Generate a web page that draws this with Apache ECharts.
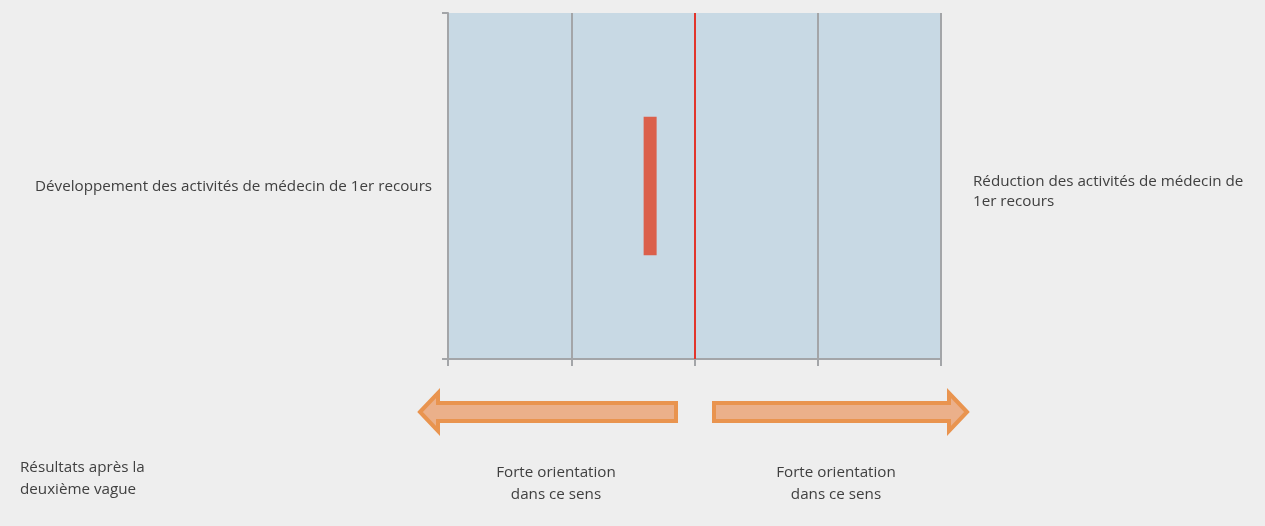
<!DOCTYPE html>
<html>
<head>
<meta charset="utf-8">
<script src="https://cdn.jsdelivr.net/npm/echarts@6/dist/echarts.min.js"></script>
<style>
  html, body { margin: 0; padding: 0; background: #eeeeee; }
  #chart { width: 1265px; height: 526px; }
</style>
</head>
<body>
<div id="chart"></div>
<script>
// Scale from -2 (développement) to +2 (réduction), neutral at 0
const xTicks = [-2, -1, 0, 1, 2];
const neutralValue = 0;
// Position of the result after the second wave, and its vertical span on a 0–1 scale
const resultValue = [-0.36];
const resultSpan = [[0.3, 0.7]];

const leftLabel = 'Développement des activités de médecin de 1er recours';
const rightLabel = ['Réduction des activités de médecin de', '1er recours'];
const waveLabel = ['Résultats après la', 'deuxième vague'];
const arrowLabel = ['Forte orientation', 'dans ce sens'];

const chart = echarts.init(document.getElementById('chart'));
const font = '"Open Sans", "Liberation Sans", sans-serif';
const fontSize = '15.2px ';
const textColor = '#404040';
const gray = '#a3a5a8';

const arrowFill = '#ebb08a';
const arrowStroke = '#e9944f';

function arrowLeft(x0, x1, yc) {
  // tip at x0, tail at x1
  const hb = x0 + 18;
  return [[x0, yc], [hb, yc - 19], [hb, yc - 9], [x1, yc - 9], [x1, yc + 9], [hb, yc + 9], [hb, yc + 19]];
}
function arrowRight(x0, x1, yc) {
  const hb = x1 - 18;
  return [[x1, yc], [hb, yc - 19], [hb, yc - 9], [x0, yc - 9], [x0, yc + 9], [hb, yc + 9], [hb, yc + 19]];
}

chart.setOption({
  backgroundColor: '#eeeeee',
  animation: false,
  grid: { left: 448, right: 324, top: 13, bottom: 167, show: true, backgroundColor: '#c8d9e4', borderWidth: 0 },
  xAxis: {
    type: 'value',
    min: xTicks[0], max: xTicks[xTicks.length - 1], interval: 1,
    axisLine: { show: true, onZero: false, lineStyle: { color: gray, width: 2 } },
    axisTick: { show: true, length: 7, lineStyle: { color: gray, width: 2 } },
    axisLabel: { show: false },
    splitLine: { show: true, lineStyle: { color: gray, width: 2 } }
  },
  yAxis: {
    type: 'value', min: 0, max: 1, interval: 1,
    axisLine: { show: true, onZero: false, lineStyle: { color: gray, width: 2 } },
    axisTick: { show: true, length: 6, lineStyle: { color: gray, width: 2 } },
    axisLabel: { show: false },
    splitLine: { show: false }
  },
  series: [
    {
      type: 'custom',
      data: resultValue.map((v, i) => [v, resultSpan[i][0], resultSpan[i][1]]),
      renderItem: function (params, api) {
        const top = api.coord([api.value(0), api.value(2)]);
        const bot = api.coord([api.value(0), api.value(1)]);
        const w = 13;
        return {
          type: 'rect',
          shape: { x: top[0] - w / 2, y: top[1], width: w, height: bot[1] - top[1] },
          style: { fill: '#db604b' }
        };
      },
      markLine: {
        silent: true, symbol: 'none', label: { show: false },
        lineStyle: { color: '#e2352b', width: 2, type: 'solid' },
        data: [{ xAxis: neutralValue }]
      }
    }
  ],
  graphic: [
    { type: 'text', left: 35, top: 179, style: { text: leftLabel, font: fontSize + font, fill: textColor } },
    { type: 'text', left: 973, top: 172, style: { text: rightLabel.join('\n'), font: fontSize + font, fill: textColor, lineHeight: 20 } },
    { type: 'text', left: 20, top: 457, style: { text: waveLabel.join('\n'), font: fontSize + font, fill: textColor, lineHeight: 22 } },
    { type: 'text', x: 556, y: 462, style: { text: arrowLabel.join('\n'), font: fontSize + font, fill: textColor, lineHeight: 22, textAlign: 'center' } },
    { type: 'text', x: 836, y: 462, style: { text: arrowLabel.join('\n'), font: fontSize + font, fill: textColor, lineHeight: 22, textAlign: 'center' } },
    { type: 'polygon', shape: { points: arrowLeft(420, 676, 412) }, style: { fill: arrowFill, stroke: arrowStroke, lineWidth: 4 } },
    { type: 'polygon', shape: { points: arrowRight(714, 967, 412) }, style: { fill: arrowFill, stroke: arrowStroke, lineWidth: 4 } }
  ]
});
</script>
</body>
</html>
